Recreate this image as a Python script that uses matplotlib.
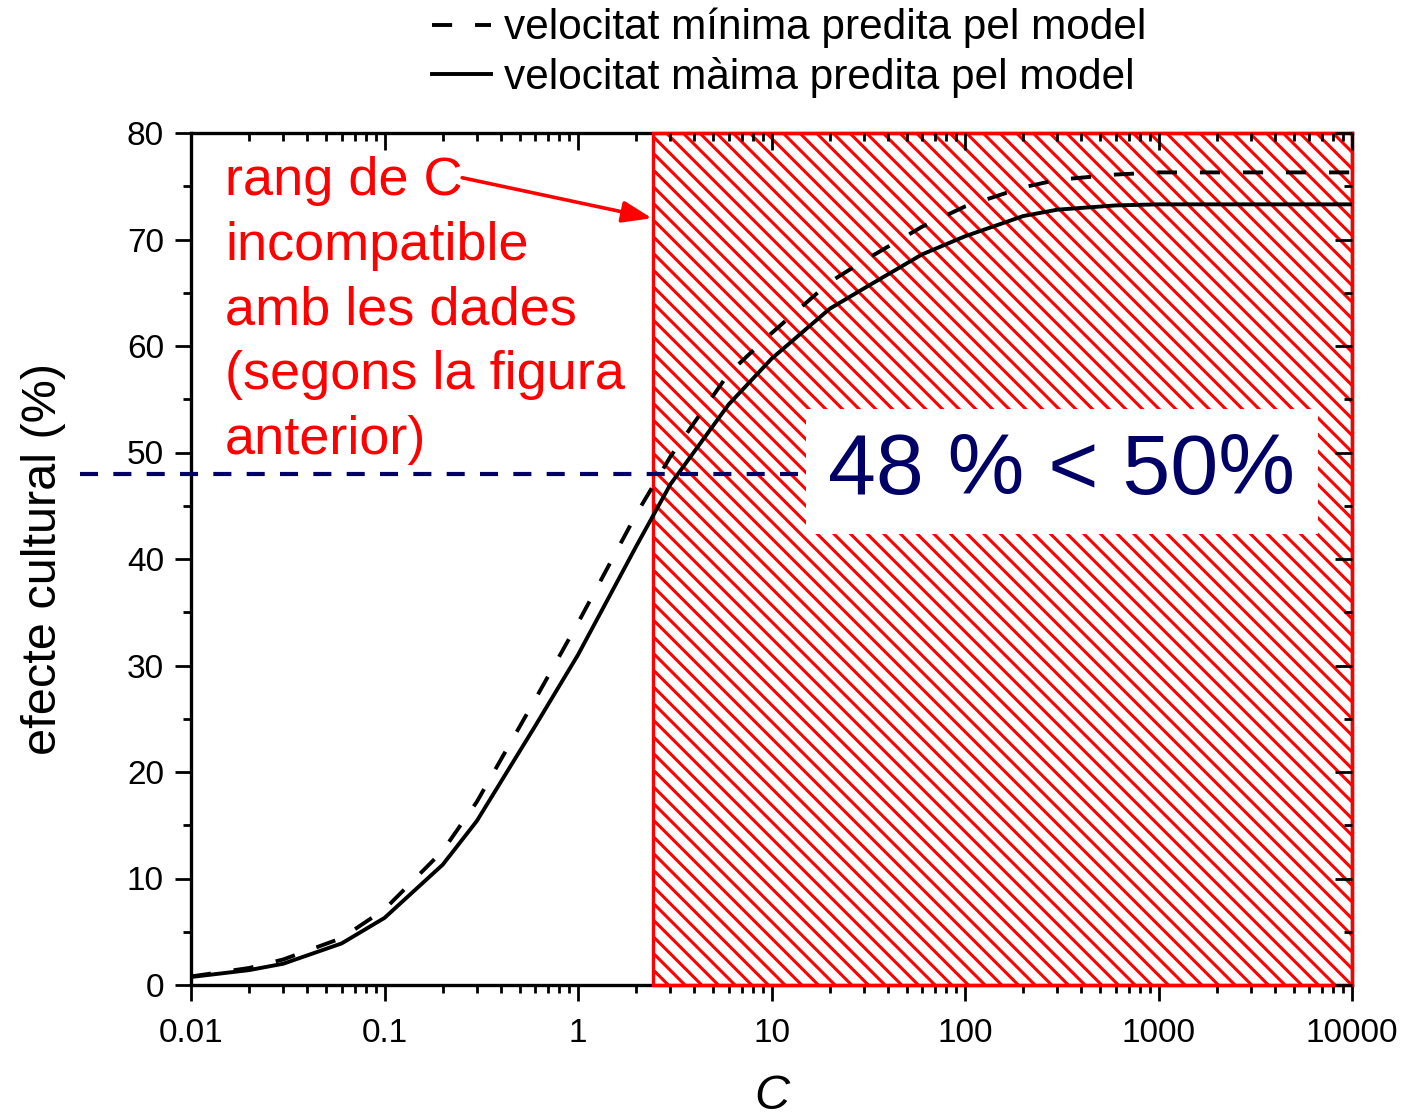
import matplotlib
matplotlib.use("Agg")
import matplotlib.pyplot as plt
from matplotlib.ticker import FixedLocator, FixedFormatter, LogLocator, MultipleLocator, NullFormatter
from matplotlib.lines import Line2D

plt.rcParams['font.family'] = ['Liberation Sans', 'DejaVu Sans']
plt.rcParams['lines.scale_dashes'] = False
plt.rcParams['hatch.linewidth'] = 2.2
plt.rcParams['hatch.color'] = 'red'

# model output
C_vals = [0.01, 0.02, 0.03, 0.06, 0.1, 0.2, 0.3, 0.6, 1, 2, 3, 6, 10, 20, 30, 60,
          100, 200, 300, 600, 1000, 3000, 10000]
v_min = [0.8, 1.6, 2.4, 4.4, 7.1, 12.6, 17.2, 26.8, 34.0, 44.2, 49.6, 57.4, 61.2, 66.0,
         68.0, 71.2, 73.1, 74.9, 75.6, 76.1, 76.3, 76.3, 76.3]
v_max = [0.75, 1.4, 2.0, 3.9, 6.3, 11.3, 15.4, 24.3, 31.0, 41.2, 47.0, 54.5, 58.8, 63.5,
         65.4, 68.6, 70.3, 72.2, 72.8, 73.2, 73.3, 73.3, 73.3]

C_incompat = 2.44        # lower bound of incompatible C range
C_range = [0.01, 10000]
efecte_obs = 48          # observed cultural effect (%)
ref_line_x = [0.00267, 100]

x_ticks = [0.01, 0.1, 1, 10, 100, 1000, 10000]
x_ticklabels = ['0.01', '0.1', '1', '10', '100', '1000', '10000']
y_ticks = [0, 10, 20, 30, 40, 50, 60, 70, 80]

labels = ['velocitat mínima predita pel model', 'velocitat màima predita pel model']

fig = plt.figure(figsize=(14.04, 11.17), dpi=100)
ax = fig.add_axes([191/1404, 1 - 985/1117, (1352-191)/1404, (985-133)/1117])

ax.set_xscale('log')
ax.set_xlim(C_range)
ax.set_ylim(0, 80)

# incompatible region
span = ax.axvspan(C_incompat, C_range[1], facecolor='none', edgecolor='red',
                  hatch='\\\\', lw=2.4, zorder=2.6, clip_on=False)

ax.plot(C_vals, v_min, color='black', lw=2.8, dashes=(14.5, 16.5), zorder=3)
ax.plot(C_vals, v_max, color='black', lw=2.8, zorder=3)

# observed level
ax.plot(ref_line_x, [efecte_obs, efecte_obs], color='#000066', lw=3.0,
        dashes=(13, 11), clip_on=False, zorder=3.5)
ax.text(10**(-2 + (1062-191)/193.5), efecte_obs + 0.2, '48 % < 50%', color='#000066',
        fontsize=62, ha='center', va='center', zorder=5,
        bbox=dict(boxstyle='square,pad=0.26', facecolor='white', edgecolor='none'))

# annotation
ax.text(10**(-2 + (225-191)/193.5), (985-156)/10.65,
        'rang de C\nincompatible\namb les dades\n(segons la figura\nanterior)',
        color='red', fontsize=39, ha='left', va='top', linespacing=1.38, zorder=4)
ax.annotate('', xy=(2.41, 72.0), xytext=(0.252, 75.8),
            arrowprops=dict(arrowstyle='-|>,head_length=0.6,head_width=0.22',
                            color='red', lw=2.6, mutation_scale=30,
                            shrinkA=0, shrinkB=0), zorder=4)

# axes styling
for s in ax.spines.values():
    s.set_linewidth(2.4)
ax.xaxis.set_major_locator(FixedLocator(x_ticks))
ax.xaxis.set_major_formatter(FixedFormatter(x_ticklabels))
ax.xaxis.set_minor_locator(LogLocator(base=10, subs=range(2, 10), numticks=20))
ax.xaxis.set_minor_formatter(NullFormatter())
ax.yaxis.set_major_locator(FixedLocator(y_ticks))
ax.yaxis.set_minor_locator(MultipleLocator(5))
ax.tick_params(which='major', direction='out', length=11.5, width=2.0, labelsize=24,
               top=False, right=False, pad=8)
ax.tick_params(which='minor', direction='out', length=5.5, width=2.0, top=False, right=False)
ax.tick_params(axis='x', which='major', pad=12)

# mirrored ticks pointing inward
axt = ax.twiny()
axt.set_xscale('log')
axt.set_xlim(ax.get_xlim())
axt.xaxis.set_major_locator(FixedLocator(x_ticks))
axt.xaxis.set_minor_locator(LogLocator(base=10, subs=range(2, 10), numticks=20))
axt.tick_params(which='major', direction='in', length=12, width=2.0, labeltop=False)
axt.tick_params(which='minor', direction='in', length=6, width=2.0, labeltop=False)
axr = ax.twinx()
axr.set_ylim(ax.get_ylim())
axr.yaxis.set_major_locator(FixedLocator(y_ticks))
axr.yaxis.set_minor_locator(MultipleLocator(5))
axr.tick_params(which='major', direction='in', length=12, width=2.0, labelright=False)
axr.tick_params(which='minor', direction='in', length=6, width=2.0, labelright=False)
for a in (axt, axr):
    for s in a.spines.values():
        s.set_visible(False)

ax.set_xlabel('C', fontsize=35, style='italic', labelpad=18)
ax.set_ylabel('efecte cultural (%)', fontsize=35, labelpad=44)

handles = [Line2D([], [], color='black', lw=2.8, dashes=(14.5, 16.5)),
           Line2D([], [], color='black', lw=2.8)]
fig.legend(handles, labels, loc='upper left', bbox_to_anchor=(432/1404, 1 - 8/1117),
           frameon=False, fontsize=30.5, handlelength=1.4, handletextpad=0.3,
           labelspacing=0.2, borderpad=0, borderaxespad=0)

fig.savefig('out.png', dpi=100)
